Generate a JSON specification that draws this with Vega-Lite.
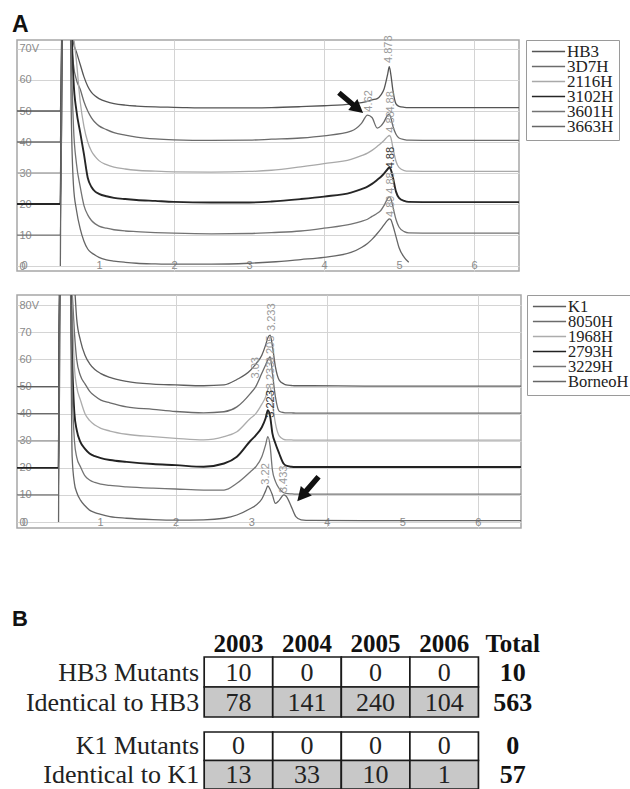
{
  "$schema": "https://vega.github.io/schema/vega-lite/v6.json",
  "padding": {"left": 11, "top": 13, "right": 0, "bottom": 0},
  "background": "white",
  "bounds": "flush",
  "spacing": 0,
  "resolve": {"scale": {"color": "independent", "x": "independent", "y": "independent"}, "legend": {"color": "independent"}, "axis": {"x": "independent", "y": "independent"}},
  "config": {"view": {"stroke": "#a6a6a6", "strokeWidth": 1.5}, "font": "Liberation Sans"},
  "vconcat": [
    {
      "width": 502,
      "height": 231,
      "title": {"text": "A", "anchor": "start", "dx": -5, "dy": 3, "fontSize": 23, "fontWeight": "bold", "font": "Liberation Sans", "color": "#111", "offset": 1},
      "encoding": {
        "x": {"field": "t", "type": "quantitative", "scale": {"domain": [-0.093, 6.6], "nice": false, "zero": false},
          "axis": {"values": [0, 1, 2, 3, 4, 5, 6], "format": "d", "domain": false, "ticks": false, "labelBaseline": "bottom", "labelPadding": -1, "labelFontSize": 11, "labelFont": "Liberation Sans", "labelColor": "#8a8a8a", "title": null, "grid": true, "gridColor": "#d4d4d4", "gridOpacity": {"condition": {"test": "datum.value % 2 === 0 && datum.value > 0", "value": 1}, "value": 0}, "labelFlush": false}},
        "y": {"field": "v", "type": "quantitative", "scale": {"domain": [-1.6, 72.9], "nice": false, "zero": false},
          "axis": {"values": [0, 10, 20, 30, 40, 50, 60, 70], "labelExpr": "datum.value === 70 ? '70V' : datum.label", "domain": false, "ticks": false, "labelAlign": "left", "labelPadding": -2, "labelFontSize": 11, "labelFont": "Liberation Sans", "labelColor": "#8a8a8a", "title": null, "grid": true, "gridColor": "#d4d4d4", "labelFlush": false, "labelOverlap": false}}
      },
      "layer": [
        {
          "data": {"values": [
            {"t": -0.093, "HB3": 50, "3D7H": 40, "2116H": 30, "3102H": 20, "3601H": 10},
            {"t": 0.485, "HB3": 50, "3D7H": 40, "2116H": 30, "3102H": 20, "3601H": 10, "3663H": 0},
            {"t": 0.52, "HB3": 100, "3D7H": 100, "2116H": 100, "3102H": 100, "3601H": 100, "3663H": 100},
            {"t": 0.61, "HB3": 100, "3D7H": 100, "2116H": 100, "3102H": 100, "3601H": 100, "3663H": 100},
            {"t": 0.63, "HB3": 82, "3D7H": 75, "2116H": 85, "3102H": 80, "3601H": 70, "3663H": 50},
            {"t": 0.66, "HB3": 72, "3D7H": 65, "2116H": 75, "3102H": 60, "3601H": 45, "3663H": 26},
            {"t": 0.7, "HB3": 69, "3D7H": 60, "2116H": 66, "3102H": 50, "3601H": 33, "3663H": 18},
            {"t": 0.75, "HB3": 65, "3D7H": 57, "2116H": 53, "3102H": 43, "3601H": 25.5, "3663H": 12},
            {"t": 0.8, "HB3": 61, "3D7H": 53, "2116H": 45, "3102H": 36, "3601H": 19.5, "3663H": 8},
            {"t": 0.85, "HB3": 58, "3D7H": 50, "2116H": 40, "3102H": 28.5, "3601H": 16.5, "3663H": 5.5},
            {"t": 0.9, "HB3": 56, "3D7H": 47.8, "2116H": 37, "3102H": 25.5, "3601H": 14.7, "3663H": 4.3},
            {"t": 0.95, "HB3": 54.8, "3D7H": 46.3, "2116H": 35.3, "3102H": 24, "3601H": 13.6, "3663H": 3.5},
            {"t": 1.0, "HB3": 54, "3D7H": 45.2, "2116H": 34, "3102H": 23.3, "3601H": 12.9, "3663H": 2.8},
            {"t": 1.1, "HB3": 53, "3D7H": 44, "2116H": 32.7, "3102H": 22.5, "3601H": 12.2, "3663H": 2},
            {"t": 1.2, "HB3": 52.4, "3D7H": 43, "2116H": 31.9, "3102H": 22, "3601H": 11.7, "3663H": 1.6},
            {"t": 1.35, "HB3": 51.9, "3D7H": 42.2, "2116H": 31.3, "3102H": 21.6, "3601H": 11.3, "3663H": 1.2},
            {"t": 1.5, "HB3": 51.6, "3D7H": 41.6, "2116H": 30.9, "3102H": 21.3, "3601H": 11.1, "3663H": 0.9},
            {"t": 1.75, "HB3": 51.3, "3D7H": 41, "2116H": 30.6, "3102H": 21, "3601H": 10.8, "3663H": 0.7},
            {"t": 2.0, "HB3": 51.2, "3D7H": 40.7, "2116H": 30.4, "3102H": 20.7, "3601H": 10.6, "3663H": 0.6},
            {"t": 2.5, "HB3": 51, "3D7H": 40.5, "2116H": 30.3, "3102H": 20.5, "3601H": 10.4, "3663H": 0.6},
            {"t": 3.0, "HB3": 51, "3D7H": 40.6, "2116H": 30.5, "3102H": 20.5, "3601H": 10.5, "3663H": 0.9},
            {"t": 3.3, "HB3": 51.1, "3D7H": 40.9, "2116H": 30.9, "3102H": 20.8, "3601H": 10.8, "3663H": 1.3},
            {"t": 3.69, "HB3": 51.4, "3D7H": 41.3, "2116H": 32, "3102H": 21.6, "3601H": 11.3, "3663H": 2.1},
            {"t": 4.0, "HB3": 51.7, "3D7H": 42, "2116H": 33, "3102H": 22.4, "3601H": 12.2, "3663H": 2.8},
            {"t": 4.36, "HB3": 52.2, "3D7H": 43.5, "2116H": 34.4, "3102H": 23.7, "3601H": 13.5, "3663H": 4.4},
            {"t": 4.5, "HB3": 52.7, "3D7H": 46, "2116H": 35.6, "3102H": 24.8, "3601H": 14.4, "3663H": 6},
            {"t": 4.58, "HB3": 53.1, "3D7H": 48.7, "2116H": 36.4, "3102H": 25.6, "3601H": 15.1, "3663H": 7.3},
            {"t": 4.64, "HB3": 53.6, "3D7H": 47.9, "2116H": 37.3, "3102H": 26.5, "3601H": 16, "3663H": 8.6},
            {"t": 4.71, "HB3": 54, "3D7H": 44.5, "2116H": 38.6, "3102H": 27.8, "3601H": 17, "3663H": 10.5},
            {"t": 4.76, "HB3": 55.2, "3D7H": 45.2, "2116H": 39.6, "3102H": 28.8, "3601H": 18, "3663H": 12},
            {"t": 4.8, "HB3": 57, "3D7H": 46.5, "2116H": 40.5, "3102H": 29.8, "3601H": 19.5, "3663H": 13.3},
            {"t": 4.85, "HB3": 62, "3D7H": 48.7, "2116H": 41.8, "3102H": 31.3, "3601H": 21.8, "3663H": 14.8},
            {"t": 4.87, "HB3": 64.3, "3D7H": 48.9, "2116H": 42.1, "3102H": 31.8, "3601H": 22.3, "3663H": 15.2},
            {"t": 4.89, "HB3": 62, "3D7H": 48, "2116H": 41.5, "3102H": 31.2, "3601H": 21.8, "3663H": 15},
            {"t": 4.92, "HB3": 56.5, "3D7H": 45, "2116H": 38, "3102H": 28.5, "3601H": 19, "3663H": 13},
            {"t": 4.96, "HB3": 52.3, "3D7H": 42.5, "2116H": 33.8, "3102H": 24, "3601H": 15, "3663H": 9.5},
            {"t": 5.0, "HB3": 51.5, "3D7H": 41.3, "2116H": 31.8, "3102H": 22, "3601H": 12.6, "3663H": 6},
            {"t": 5.07, "HB3": 51.2, "3D7H": 40.8, "2116H": 30.8, "3102H": 21, "3601H": 11.1, "3663H": 2.8},
            {"t": 5.13, "HB3": 51.1, "3D7H": 40.6, "2116H": 30.6, "3102H": 20.7, "3601H": 10.7, "3663H": 1.2},
            {"t": 5.5, "HB3": 51.1, "3D7H": 40.5, "2116H": 30.5, "3102H": 20.6, "3601H": 10.6},
            {"t": 6.0, "HB3": 51.1, "3D7H": 40.5, "2116H": 30.5, "3102H": 20.6, "3601H": 10.6},
            {"t": 6.6, "HB3": 51.1, "3D7H": 40.5, "2116H": 30.5, "3102H": 20.6, "3601H": 10.6}
          ]},
          "transform": [{"fold": ["HB3", "3D7H", "2116H", "3102H", "3601H", "3663H"], "as": ["series", "v"]}],
          "mark": {"type": "line", "clip": true, "interpolate": "monotone"},
          "encoding": {
            "color": {"field": "series", "type": "nominal",
              "scale": {"domain": ["HB3", "3D7H", "2116H", "3102H", "3601H", "3663H"], "range": ["#555555", "#6b6b6b", "#a9a9a9", "#262626", "#737373", "#666666"]},
              "legend": {"title": null, "orient": "right", "offset": 7, "symbolType": "stroke", "symbolSize": 1100, "symbolStrokeWidth": 1.5, "clipHeight": 13, "labelFont": "Liberation Serif", "labelFontSize": 17, "labelColor": "#222", "labelOffset": 1, "padding": 5, "strokeColor": "#9a9a9a", "fillColor": "white", "rowPadding": -3.6, "labelLimit": 200}},
            "strokeWidth": {"condition": {"test": "datum.series === '3102H'", "value": 1.9}, "value": 1.3}
          }
        },
        {
          "data": {"values": [
            {"t": 4.87, "v": 65.5, "label": "4.873", "series": "HB3"},
            {"t": 4.6, "v": 49.8, "label": "4.62", "series": "3D7H"},
            {"t": 4.89, "v": 49.5, "label": "4.88", "series": "3D7H"},
            {"t": 4.89, "v": 43, "label": "4.88", "series": "2116H"},
            {"t": 4.89, "v": 31.5, "label": "4.88", "series": "3102H"},
            {"t": 4.89, "v": 23.3, "label": "4.88", "series": "3601H"},
            {"t": 4.89, "v": 15.8, "label": "4.89", "series": "3663H"}
          ]},
          "mark": {"type": "text", "angle": 270, "align": "left", "baseline": "middle", "fontSize": 11, "font": "Liberation Sans"},
          "encoding": {
            "text": {"field": "label"},
            "color": {"condition": {"test": "datum.series === '3102H'", "value": "#333333"}, "value": "#9a9a9a"}
          }
        },
        {
          "data": {"values": [{"t": 4.36, "v": 52.6}]},
          "mark": {"type": "point", "shape": "M-1,-0.17L0.15,-0.17L0.15,-0.45L1,0L0.15,0.45L0.15,0.17L-1,0.17Z", "filled": true, "color": "#111111", "opacity": 1, "size": 1000, "angle": 40},
          "encoding": {}
        }
      ]
    },
    {
      "width": 10, "height": 24, "view": {"stroke": null},
      "data": {"values": [{"a": 1}]},
      "mark": {"type": "point", "opacity": 0},
      "encoding": {}
    },
    {
      "width": 504,
      "height": 233,
      "encoding": {
        "x": {"field": "t", "type": "quantitative", "scale": {"domain": [-0.1, 6.57], "nice": false, "zero": false},
          "axis": {"values": [0, 1, 2, 3, 4, 5, 6], "format": "d", "domain": false, "ticks": false, "labelBaseline": "bottom", "labelPadding": -1, "labelFontSize": 11, "labelFont": "Liberation Sans", "labelColor": "#8a8a8a", "title": null, "grid": true, "gridColor": "#d4d4d4", "gridOpacity": {"condition": {"test": "datum.value % 2 === 0 && datum.value > 0", "value": 1}, "value": 0}, "labelFlush": false}},
        "y": {"field": "v", "type": "quantitative", "scale": {"domain": [-2.2, 83.8], "nice": false, "zero": false},
          "axis": {"values": [0, 10, 20, 30, 40, 50, 60, 70, 80], "labelExpr": "datum.value === 80 ? '80V' : datum.label", "domain": false, "ticks": false, "labelAlign": "left", "labelPadding": -2, "labelFontSize": 11, "labelFont": "Liberation Sans", "labelColor": "#8a8a8a", "title": null, "grid": true, "gridColor": "#d4d4d4", "labelFlush": false, "labelOverlap": false}}
      },
      "layer": [
        {
          "data": {"values": [
            {"t": -0.1, "K1": 50, "8050H": 40, "1968H": 30, "2793H": 20, "3229H": 10},
            {"t": 0.45, "K1": 50, "8050H": 40, "1968H": 30, "2793H": 20, "3229H": 10, "BorneoH": 0},
            {"t": 0.47, "K1": 100, "8050H": 100, "1968H": 100, "2793H": 100, "3229H": 100, "BorneoH": 100},
            {"t": 0.6, "K1": 100, "8050H": 100, "1968H": 100, "2793H": 100, "3229H": 100, "BorneoH": 100},
            {"t": 0.63, "K1": 100, "8050H": 85, "1968H": 80, "2793H": 60, "3229H": 50, "BorneoH": 24},
            {"t": 0.66, "K1": 88, "8050H": 70, "1968H": 57, "2793H": 40, "3229H": 30, "BorneoH": 14.3},
            {"t": 0.69, "K1": 75, "8050H": 60, "1968H": 50, "2793H": 34, "3229H": 24, "BorneoH": 11},
            {"t": 0.74, "K1": 67, "8050H": 54, "1968H": 45, "2793H": 29.5, "3229H": 20.4, "BorneoH": 8.1},
            {"t": 0.8, "K1": 61.6, "8050H": 51, "1968H": 40, "2793H": 27, "3229H": 17, "BorneoH": 6},
            {"t": 0.86, "K1": 58.5, "8050H": 48.3, "1968H": 37.5, "2793H": 25.3, "3229H": 15.5, "BorneoH": 4.4},
            {"t": 0.93, "K1": 56.3, "8050H": 46.5, "1968H": 35.8, "2793H": 24.3, "3229H": 14.6, "BorneoH": 3.5},
            {"t": 1.01, "K1": 54.8, "8050H": 45, "1968H": 34.6, "2793H": 23.6, "3229H": 14, "BorneoH": 2.8},
            {"t": 1.13, "K1": 53.4, "8050H": 44, "1968H": 33.6, "2793H": 22.9, "3229H": 13.5, "BorneoH": 2},
            {"t": 1.35, "K1": 51.9, "8050H": 42.5, "1968H": 32.4, "2793H": 22.2, "3229H": 13, "BorneoH": 1.4},
            {"t": 1.7, "K1": 50.9, "8050H": 41.6, "1968H": 31.5, "2793H": 21.4, "3229H": 12.5, "BorneoH": 0.9},
            {"t": 2.0, "K1": 50.6, "8050H": 40.8, "1968H": 30.9, "2793H": 21, "3229H": 12.2, "BorneoH": 0.7},
            {"t": 2.37, "K1": 50.3, "8050H": 40.3, "1968H": 30.3, "2793H": 20.4, "3229H": 11.8, "BorneoH": 0.8},
            {"t": 2.64, "K1": 50.6, "8050H": 40.7, "1968H": 31.5, "2793H": 21.6, "3229H": 11.8, "BorneoH": 1.4},
            {"t": 2.81, "K1": 52.6, "8050H": 42.5, "1968H": 33.3, "2793H": 24.1, "3229H": 14.3, "BorneoH": 2.6},
            {"t": 2.99, "K1": 56, "8050H": 47.5, "1968H": 38.3, "2793H": 30, "3229H": 18.6, "BorneoH": 5},
            {"t": 3.06, "K1": 58.3, "8050H": 50, "1968H": 40, "2793H": 32, "3229H": 20.4, "BorneoH": 6.2},
            {"t": 3.14, "K1": 61.6, "8050H": 54.9, "1968H": 43.5, "2793H": 35, "3229H": 24.1, "BorneoH": 8.5},
            {"t": 3.19, "K1": 65.3, "8050H": 58, "1968H": 46.2, "2793H": 38.3, "3229H": 28.5, "BorneoH": 11.5},
            {"t": 3.22, "K1": 68, "8050H": 59.8, "1968H": 49, "2793H": 41.3, "3229H": 31.5, "BorneoH": 13.3},
            {"t": 3.25, "K1": 69, "8050H": 61, "1968H": 50, "2793H": 39, "3229H": 28, "BorneoH": 12},
            {"t": 3.28, "K1": 65, "8050H": 55, "1968H": 44, "2793H": 32.7, "3229H": 19.2, "BorneoH": 10},
            {"t": 3.32, "K1": 57.3, "8050H": 46.2, "1968H": 36.4, "2793H": 29, "3229H": 15, "BorneoH": 6.9},
            {"t": 3.37, "K1": 52.4, "8050H": 40.9, "1968H": 31.8, "2793H": 25.3, "3229H": 12.4, "BorneoH": 8},
            {"t": 3.43, "K1": 51, "8050H": 40.4, "1968H": 30.5, "2793H": 21.5, "3229H": 10.8, "BorneoH": 10},
            {"t": 3.46, "K1": 50.6, "8050H": 40.3, "1968H": 30.3, "2793H": 20.8, "3229H": 10.6, "BorneoH": 9.6},
            {"t": 3.53, "K1": 50.4, "8050H": 40.3, "1968H": 30.3, "2793H": 20.4, "3229H": 10.4, "BorneoH": 5.7},
            {"t": 3.59, "K1": 50.3, "8050H": 40.2, "1968H": 30.2, "2793H": 20.3, "3229H": 10.3, "BorneoH": 2},
            {"t": 3.66, "K1": 50.3, "8050H": 40.2, "1968H": 30.2, "2793H": 20.3, "3229H": 10.3, "BorneoH": 0.8},
            {"t": 3.8, "K1": 50.3, "8050H": 40.2, "1968H": 30.2, "2793H": 20.3, "3229H": 10.3, "BorneoH": 0.6},
            {"t": 4.5, "K1": 50.2, "8050H": 40.2, "1968H": 30.2, "2793H": 20.3, "3229H": 10.3, "BorneoH": 0.5},
            {"t": 5.5, "K1": 50.2, "8050H": 40.2, "1968H": 30.2, "2793H": 20.3, "3229H": 10.3, "BorneoH": 0.5},
            {"t": 6.57, "K1": 50.2, "8050H": 40.2, "1968H": 30.2, "2793H": 20.3, "3229H": 10.3, "BorneoH": 0.5}
          ]},
          "transform": [{"fold": ["K1", "8050H", "1968H", "2793H", "3229H", "BorneoH"], "as": ["series", "v"]}],
          "mark": {"type": "line", "clip": true, "interpolate": "monotone"},
          "encoding": {
            "color": {"field": "series", "type": "nominal",
              "scale": {"domain": ["K1", "8050H", "1968H", "2793H", "3229H", "BorneoH"], "range": ["#5e5e5e", "#6b6b6b", "#acacac", "#222222", "#747474", "#666666"]},
              "legend": {"title": null, "orient": "right", "offset": 6, "symbolType": "stroke", "symbolSize": 1100, "symbolStrokeWidth": 1.5, "clipHeight": 13, "labelFont": "Liberation Serif", "labelFontSize": 16.5, "labelColor": "#222", "labelOffset": 1, "padding": 5, "strokeColor": "#9a9a9a", "fillColor": "white", "rowPadding": -3.2, "labelLimit": 200}},
            "strokeWidth": {"condition": {"test": "datum.series === '2793H'", "value": 1.9}, "value": 1.3}
          }
        },
        {
          "data": {"values": [
            {"t": 3.27, "v": 70.5, "label": "3.233", "series": "K1"},
            {"t": 3.26, "v": 58.6, "label": "3.205", "series": "8050H"},
            {"t": 3.06, "v": 53, "label": "3.03", "series": "8050H"},
            {"t": 3.26, "v": 49, "label": "3.233", "series": "1968H"},
            {"t": 3.26, "v": 38.5, "label": "3.223", "series": "2793H"},
            {"t": 3.19, "v": 13.8, "label": "3.22", "series": "BorneoH"},
            {"t": 3.44, "v": 10.7, "label": "3.433", "series": "BorneoH"}
          ]},
          "mark": {"type": "text", "angle": 270, "align": "left", "baseline": "middle", "fontSize": 11, "font": "Liberation Sans"},
          "encoding": {
            "text": {"field": "label"},
            "color": {"condition": {"test": "datum.series === '2793H'", "value": "#333333"}, "value": "#9a9a9a"}
          }
        },
        {
          "data": {"values": [{"t": 3.75, "v": 12.2}]},
          "mark": {"type": "point", "shape": "M-1,-0.17L0.15,-0.17L0.15,-0.45L1,0L0.15,0.45L0.15,0.17L-1,0.17Z", "filled": true, "color": "#111111", "opacity": 1, "size": 1050, "angle": 131},
          "encoding": {}
        }
      ]
    },
    {
      "width": 10, "height": 129, "view": {"stroke": null},
      "data": {"values": [{"a": 1}]},
      "mark": {"type": "point", "opacity": 0},
      "encoding": {}
    },
    {
      "width": 530,
      "height": 60,
      "view": {"stroke": null},
      "title": {"text": "B", "anchor": "start", "dx": -5, "fontSize": 22, "fontWeight": "bold", "font": "Liberation Sans", "color": "#111", "offset": 0},
      "data": {"values": [
        {"row": "HB3 Mutants", "col": "2003", "n": 10},
        {"row": "HB3 Mutants", "col": "2004", "n": 0},
        {"row": "HB3 Mutants", "col": "2005", "n": 0},
        {"row": "HB3 Mutants", "col": "2006", "n": 0},
        {"row": "HB3 Mutants", "col": "Total", "n": 10},
        {"row": "Identical to HB3", "col": "2003", "n": 78},
        {"row": "Identical to HB3", "col": "2004", "n": 141},
        {"row": "Identical to HB3", "col": "2005", "n": 240},
        {"row": "Identical to HB3", "col": "2006", "n": 104},
        {"row": "Identical to HB3", "col": "Total", "n": 563}
      ]},
      "encoding": {
        "x": {"field": "col", "type": "nominal", "scale": {"domain": [" ", "2003", "2004", "2005", "2006", "Total"], "paddingInner": 0, "paddingOuter": 0.865, "align": 1},
          "axis": {"orient": "top", "domain": false, "ticks": false, "labelAngle": 0, "labelFont": "Liberation Serif", "labelFontSize": 25, "labelFontWeight": "bold", "labelColor": "#111", "labelPadding": 1, "title": null}},
        "y": {"field": "row", "type": "nominal", "scale": {"domain": ["HB3 Mutants", "Identical to HB3"], "paddingInner": 0, "paddingOuter": 0}, "axis": null}
      },
      "layer": [
        {"transform": [{"filter": "datum.col !== 'Total'"}], "mark": {"type": "rect", "stroke": "#1a1a1a", "strokeWidth": 1.7},
          "encoding": {"fill": {"condition": {"test": "indexof(datum.row, 'Identical') === 0", "value": "#c8c8c8"}, "value": "#ffffff"}}},
        {"transform": [{"filter": "datum.col !== 'Total'"}], "mark": {"type": "text", "font": "Liberation Serif", "fontSize": 26, "color": "#222", "dy": 1}, "encoding": {"text": {"field": "n"}}},
        {"transform": [{"filter": "datum.col === 'Total'"}], "mark": {"type": "text", "font": "Liberation Serif", "fontSize": 26, "fontWeight": "bold", "color": "#111", "dy": 1}, "encoding": {"text": {"field": "n"}}},
        {"transform": [{"filter": "datum.col === '2003'"}], "mark": {"type": "text", "font": "Liberation Serif", "fontSize": 26, "color": "#222", "align": "right", "dx": -5, "dy": 1},
          "encoding": {"x": {"field": "col", "type": "nominal", "bandPosition": 0}, "text": {"field": "row"}}}
      ]
    },
    {
      "width": 10, "height": 15, "view": {"stroke": null},
      "data": {"values": [{"a": 1}]},
      "mark": {"type": "point", "opacity": 0},
      "encoding": {}
    },
    {
      "width": 530,
      "height": 57,
      "view": {"stroke": null},
      "data": {"values": [
        {"row": "K1 Mutants", "col": "2003", "n": 0},
        {"row": "K1 Mutants", "col": "2004", "n": 0},
        {"row": "K1 Mutants", "col": "2005", "n": 0},
        {"row": "K1 Mutants", "col": "2006", "n": 0},
        {"row": "K1 Mutants", "col": "Total", "n": 0},
        {"row": "Identical to K1", "col": "2003", "n": 13},
        {"row": "Identical to K1", "col": "2004", "n": 33},
        {"row": "Identical to K1", "col": "2005", "n": 10},
        {"row": "Identical to K1", "col": "2006", "n": 1},
        {"row": "Identical to K1", "col": "Total", "n": 57}
      ]},
      "encoding": {
        "x": {"field": "col", "type": "nominal", "scale": {"domain": [" ", "2003", "2004", "2005", "2006", "Total"], "paddingInner": 0, "paddingOuter": 0.865, "align": 1}, "axis": null},
        "y": {"field": "row", "type": "nominal", "scale": {"domain": ["K1 Mutants", "Identical to K1"], "paddingInner": 0, "paddingOuter": 0}, "axis": null}
      },
      "layer": [
        {"transform": [{"filter": "datum.col !== 'Total'"}], "mark": {"type": "rect", "stroke": "#1a1a1a", "strokeWidth": 1.7},
          "encoding": {"fill": {"condition": {"test": "indexof(datum.row, 'Identical') === 0", "value": "#c8c8c8"}, "value": "#ffffff"}}},
        {"transform": [{"filter": "datum.col !== 'Total'"}], "mark": {"type": "text", "font": "Liberation Serif", "fontSize": 26, "color": "#222"}, "encoding": {"text": {"field": "n"}}},
        {"transform": [{"filter": "datum.col === 'Total'"}], "mark": {"type": "text", "font": "Liberation Serif", "fontSize": 26, "fontWeight": "bold", "color": "#111"}, "encoding": {"text": {"field": "n"}}},
        {"transform": [{"filter": "datum.col === '2003'"}], "mark": {"type": "text", "font": "Liberation Serif", "fontSize": 26, "color": "#222", "align": "right", "dx": -5},
          "encoding": {"x": {"field": "col", "type": "nominal", "bandPosition": 0}, "text": {"field": "row"}}}
      ]
    }
  ]
}
